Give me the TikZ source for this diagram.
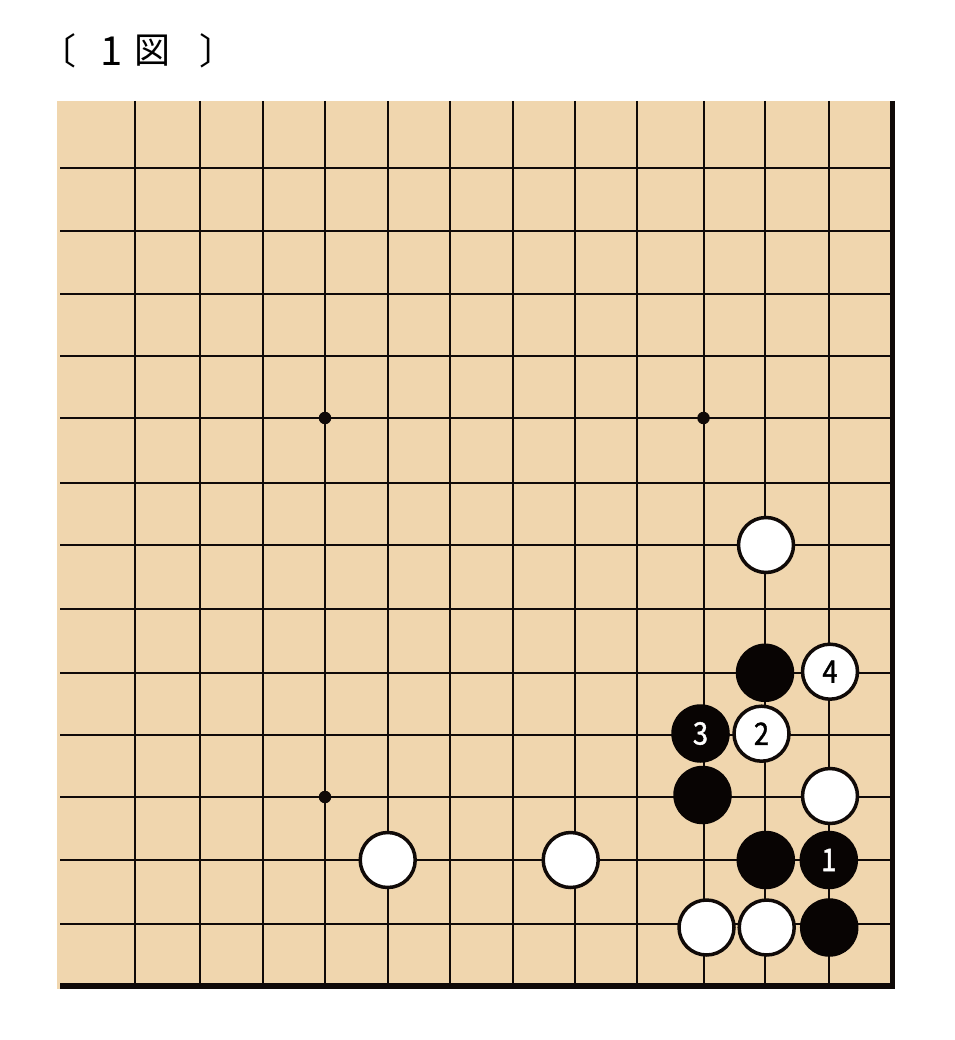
\documentclass[tikz,border=0pt]{standalone}
\usepackage{fontspec}
\newfontfamily\jpfont{Noto Sans CJK JP}
\newfontfamily\stonefont[FakeStretch=0.88,FakeBold=1.3]{Noto Sans CJK JP}
\definecolor{boardtan}{RGB}{240,214,174}
\definecolor{linecol}{RGB}{16,10,8}
\definecolor{stoneblack}{RGB}{8,4,3}
\begin{document}
\begin{tikzpicture}[x=1pt,y=-1pt,
  gridline/.style={line width=2pt, draw=linecol},
  edgeline/.style={line width=5.8pt, draw=linecol},
  wstone/.style={circle, draw=linecol, fill=white, line width=3.5pt, minimum size=55pt, inner sep=0pt, text=black, font=\stonefont\fontsize{31}{31}\selectfont},
  bstone/.style={circle, fill=stoneblack, minimum size=58.5pt, inner sep=0pt, text=white, font=\stonefont\fontsize{31}{31}\selectfont},
  starpt/.style={circle, fill=linecol, minimum size=12.5pt, inner sep=0pt},
  titletext/.style={inner sep=0pt, text=black, font=\jpfont\fontsize{36}{36}\selectfont}]
\useasboundingbox (0,0) rectangle (954,1040);
% board
\fill[boardtan] (57,101) rectangle (892,989);
% vertical lines
\foreach \x in {135,200,263,325,387.5,450,512.5,575,637,703.5,765,829}
  \draw[gridline] (\x,101) -- (\x,986);
% horizontal lines
\foreach \y in {168.5,231,293.5,356,418,483,545,609,673,735,797,860,924}
  \draw[gridline] (60,\y) -- (892,\y);
% edges
\draw[edgeline] (60,986) -- (895.4,986);
\draw[edgeline] (892.5,101) -- (892.5,988.9);
% star points
\node[starpt] (s1) at (325,418) {};
\node[starpt] (s2) at (703.5,418) {};
\node[starpt] (s3) at (325,797) {};
% stones
\node[wstone] (w1) at (766,545) {};
\node[bstone] (b1) at (765,672.8) {};
\node[wstone] (w4) at (830,671.7) {4};
\node[bstone] (b3) at (700.5,733.5) {3};
\node[wstone] (w2) at (761.5,733.7) {2};
\node[bstone] (b2) at (702.5,795) {};
\node[wstone] (w3) at (830,796) {};
\node[wstone] (w5) at (387.7,860) {};
\node[wstone] (w6) at (570.7,860) {};
\node[bstone] (b4) at (765.8,860) {};
\node[bstone] (b5) at (828.8,860) {1};
\node[wstone] (w7) at (706.5,927.5) {};
\node[wstone] (w8) at (766.7,927.5) {};
\node[bstone] (b6) at (829.2,927.5) {};
% title
\node[titletext] (t1) at (58,51) {〔};
\node[titletext, font=\jpfont\fontsize{40}{40}\selectfont] (t2) at (112,51) {1};
\node[titletext] (t3) at (152.5,51) {図};
\node[titletext] (t4) at (217,51) {〕};
\end{tikzpicture}
\end{document}
